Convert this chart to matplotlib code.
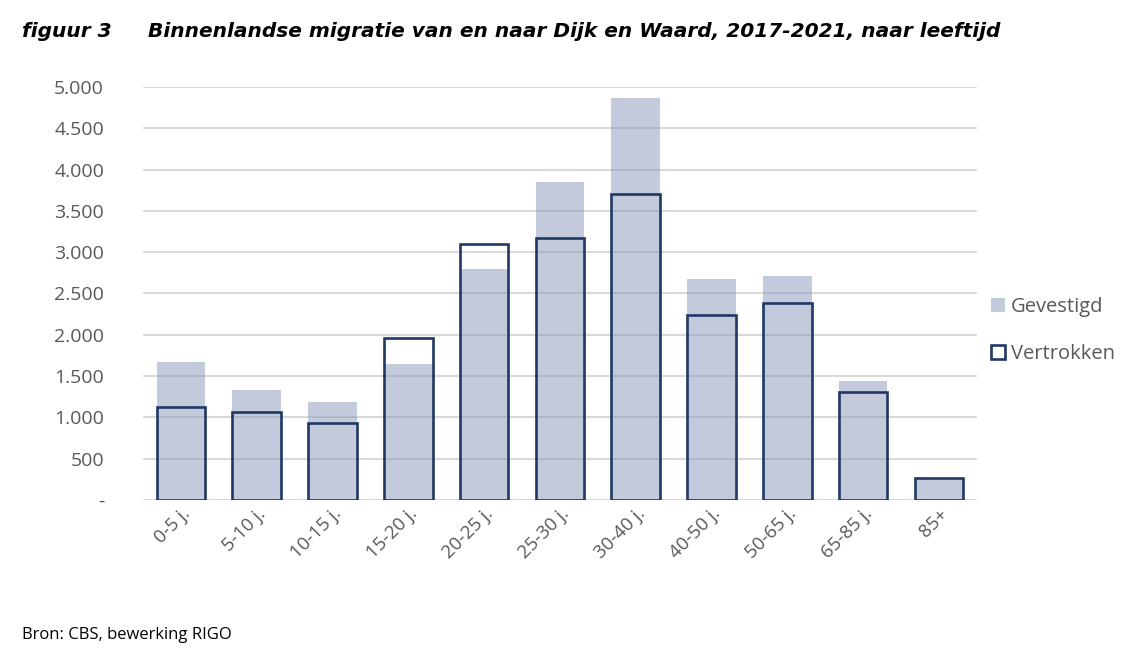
import matplotlib.pyplot as plt
from matplotlib.ticker import FuncFormatter

categories = ['0-5 j.', '5-10 j.', '10-15 j.', '15-20 j.', '20-25 j.', '25-30 j.',
              '30-40 j.', '40-50 j.', '50-65 j.', '65-85 j.', '85+']
gevestigd = [1670, 1335, 1185, 1650, 2800, 3850, 4865, 2680, 2715, 1440, 270]
vertrokken = [1130, 1070, 935, 1965, 3105, 3175, 3700, 2245, 2380, 1305, 265]
yticks = [0, 500, 1000, 1500, 2000, 2500, 3000, 3500, 4000, 4500, 5000]

plt.rcParams['font.family'] = ['Open Sans', 'DejaVu Sans']

fig = plt.figure(figsize=(11.32, 6.59), dpi=100)
ax = fig.add_axes([0.1263, 0.2413, 0.7367, 0.6267])

x = range(len(categories))
ax.bar(x, gevestigd, width=0.64, color='#8797BB', alpha=0.5, zorder=3, label='Gevestigd')
ax.bar(x, vertrokken, width=0.64, facecolor='none', edgecolor='#1F3864',
       linewidth=1.9, zorder=4, label='Vertrokken')

ax.set_xlim(-0.5, len(categories) - 0.5)
ax.set_ylim(0, 5000)
ax.set_yticks(yticks)
ax.yaxis.set_major_formatter(FuncFormatter(
    lambda v, p: '-' if v == 0 else f'{int(v):,}'.replace(',', '.')))
ax.grid(axis='y', color='#D9D9D9', linewidth=1.5, zorder=0)
for s in ax.spines.values():
    s.set_visible(False)
ax.tick_params(length=0, labelsize=14, labelcolor='#595959')
ax.tick_params(axis='y', pad=28)
ax.tick_params(axis='x', labelsize=13.5)
ax.set_xticks(list(x))
ax.set_xticklabels(categories, rotation=45, ha='right', rotation_mode='anchor')

ax.legend(loc='center left', bbox_to_anchor=(0.995, 0.41), frameon=False,
          fontsize=14.5, labelcolor='#595959', handlelength=0.7, handleheight=0.7,
          handletextpad=0.3, labelspacing=1.35)

title_font = dict(family='DejaVu Sans', fontsize=14.5, fontweight='bold',
                  fontstyle='italic', va='center')
fig.text(0.019, 0.952, 'figuur 3', **title_font)
fig.text(0.131, 0.952, 'Binnenlandse migratie van en naar Dijk en Waard, 2017-2021, naar leeftijd',
         **title_font)
fig.text(0.019, 0.037, 'Bron: CBS, bewerking RIGO', fontsize=12, va='center')

fig.savefig('out.png', dpi=100)
